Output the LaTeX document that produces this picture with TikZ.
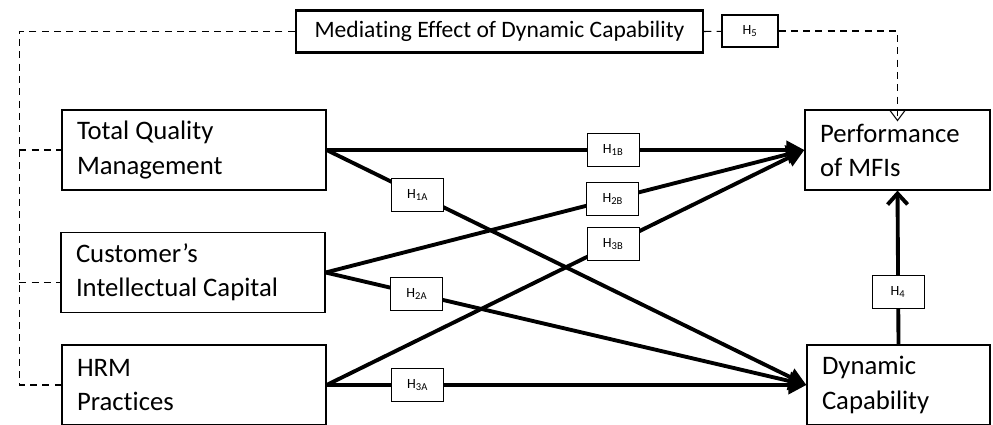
\documentclass[tikz,border=0pt]{standalone}
\usepackage{fontspec}
\setmainfont{Carlito}[Ligatures=NoCommon]
\usetikzlibrary{arrows.meta}
\begin{document}
\begin{tikzpicture}[
    var/.style={draw, line width=0.7pt, align=flush left, text width=#1, inner xsep=0.3cm,
        minimum height=1.6cm, font=\fontsize{15.2}{19.4}\selectfont},
    hyp/.style={draw, fill=white, line width=0.6pt, minimum width=1.04cm,
        minimum height=0.66cm, inner sep=0pt, font=\fontsize{8}{9}\selectfont},
    link/.style={line width=2.2pt, -{Triangle[length=0.36cm,width=0.36cm]}},
    med/.style={line width=0.6pt, dash pattern=on 4pt off 3pt}
]
    \useasboundingbox (0,0) rectangle (19.86,-8.5);
    % constructs
    \node[var=4.68cm] (tqm) at (3.88,-3.0) {Total Quality\\Management};
    \node[var=4.68cm] (cic) at (3.86,-5.45) {Customer’s\\Intellectual Capital};
    \node[var=4.68cm] (hrm) at (3.88,-7.7) {HRM\\Practices};
    \node[var=3.1cm] (perf) at (17.95,-3.0) {Performance\\of MFIs};
    \node[var=3.06cm] (dc) at (17.97,-7.7) {Dynamic\\Capability};
    \node[draw, line width=1.4pt, minimum width=8.14cm, minimum height=0.84cm,
        font=\fontsize{13.4}{16}\selectfont] (mde) at (9.99,-0.63) {Mediating Effect of Dynamic Capability};
    \node[hyp, minimum width=1.12cm, minimum height=0.64cm] (h5) at (15.0,-0.62) {H\textsubscript{5}};
    % mediation (dashed)
    \draw[med] (mde.west) -| ([xshift=-0.84cm]hrm.west) -- (hrm.west);
    \draw[med] ([xshift=-0.84cm]tqm.west) -- (tqm.west);
    \draw[med] ([xshift=-0.82cm,yshift=-0.2cm]cic.west) -- ([yshift=-0.2cm]cic.west);
    \draw[med] (mde.east) -- (h5);
    \draw[med, -{Straight Barb[length=0.2cm,width=0.3cm]}] (h5) -| ([yshift=-0.24cm]perf.north);
    % direct paths
    \draw[link] (tqm.east) -- node[hyp, pos=0.6] (h1b) {H\textsubscript{1B}} (perf.west);
    \draw[link] (tqm.east) -- node[hyp, pos=0.19] (h1a) {H\textsubscript{1A}} (dc.west);
    \draw[link] (cic.east) -- node[hyp, pos=0.6] (h2b) {H\textsubscript{2B}} (perf.west);
    \draw[link] (cic.east) -- node[hyp, pos=0.19] (h2a) {H\textsubscript{2A}} (dc.west);
    \draw[link] (hrm.east) -- node[hyp, pos=0.6] (h3b) {H\textsubscript{3B}} (perf.west);
    \draw[link] (hrm.east) -- node[hyp, pos=0.19] (h3a) {H\textsubscript{3A}} (dc.west);
    \draw[line width=2.2pt, -{Straight Barb[length=0.22cm,width=0.4cm]}]
        (dc.north) -- node[hyp, pos=0.34] (h4) {H\textsubscript{4}} (perf.south);
\end{tikzpicture}
\end{document}
